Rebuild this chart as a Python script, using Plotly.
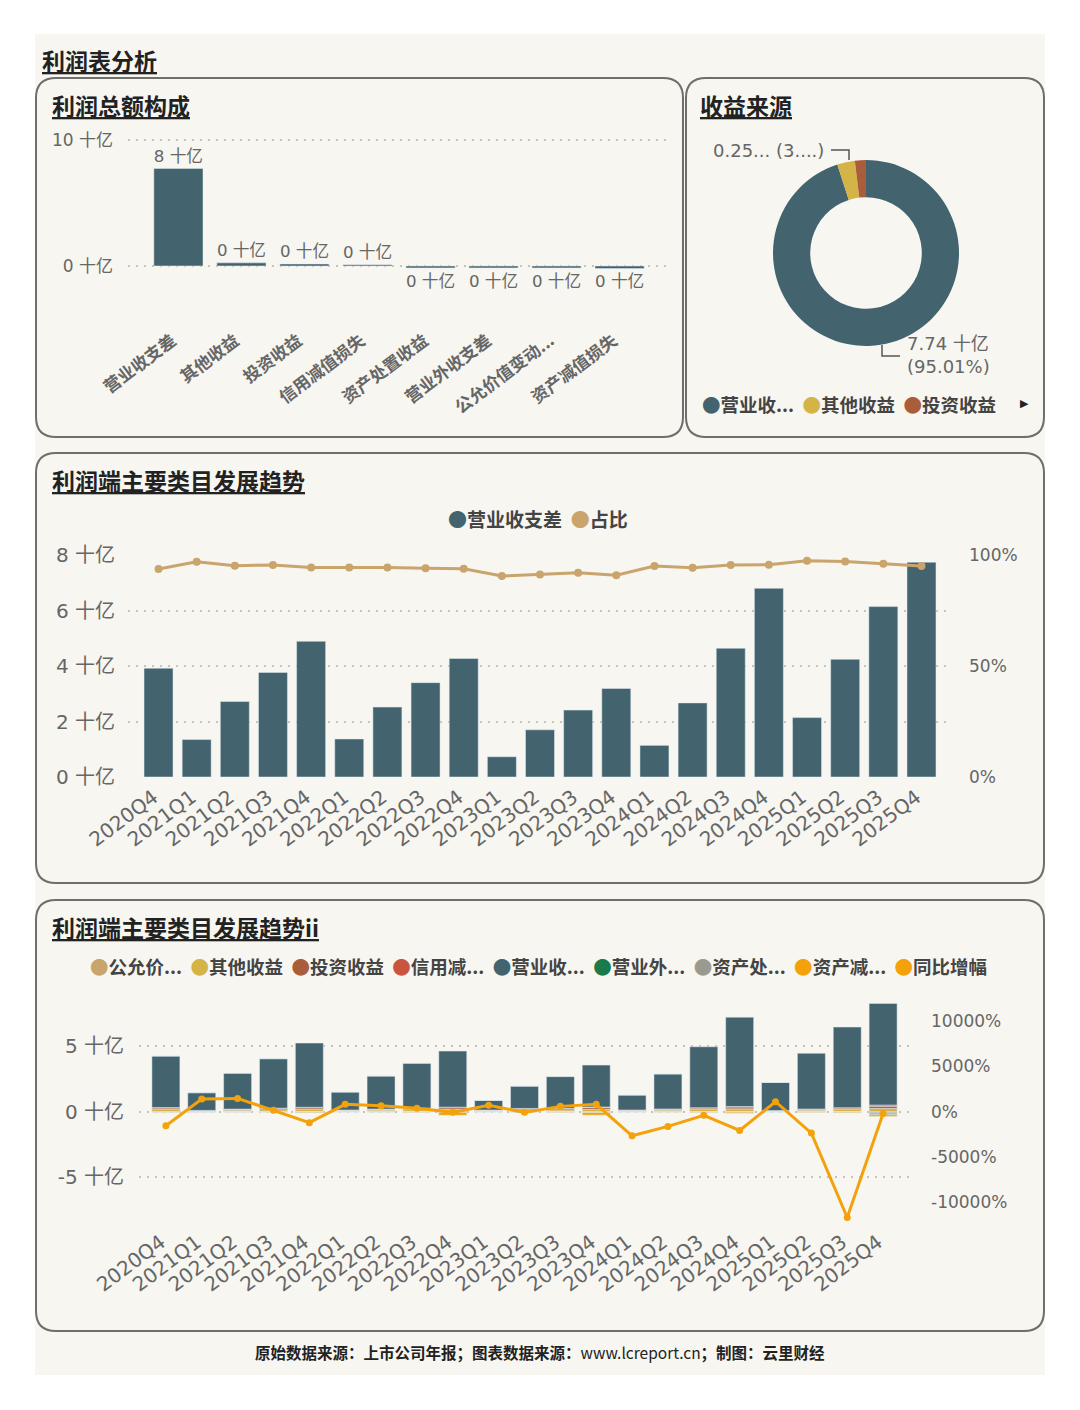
import plotly.graph_objects as go

W, H = 1080, 1410


def px(x):
    return x / W


def py(y):
    return 1 - y / H


def rounded_rect(x0, y0, x1, y1, r):
    """rounded rectangle path in paper coords, corners given in pixels"""
    pts = [
        f"M{px(x0 + r)},{py(y0)}", f"L{px(x1 - r)},{py(y0)}",
        f"Q{px(x1)},{py(y0)} {px(x1)},{py(y0 + r)}", f"L{px(x1)},{py(y1 - r)}",
        f"Q{px(x1)},{py(y1)} {px(x1 - r)},{py(y1)}", f"L{px(x0 + r)},{py(y1)}",
        f"Q{px(x0)},{py(y1)} {px(x0)},{py(y1 - r)}", f"L{px(x0)},{py(y0 + r)}",
        f"Q{px(x0)},{py(y0)} {px(x0 + r)},{py(y0)}", "Z",
    ]
    return " ".join(pts)


def fmt_num(v):
    return f"{v:g}"


NBSP = "\u00a0"

# colours
teal = "#43646e"
tan = "#c9a46c"
gold = "#d4b347"
brown = "#a95d3a"
red = "#c9553e"
green = "#1b7a4a"
grey = "#9b9a90"
orange = "#f3a20c"
cream = "#f7f6f1"
FONT = "DejaVu Sans, Noto Sans CJK SC, sans-serif"
CJK = "Noto Sans CJK SC, sans-serif"

# ---- 利润总额构成 ----
comp_names = ["营业收支差", "其他收益", "投资收益", "信用减值损失",
              "资产处置收益", "营业外收支差", "公允价值变动...", "资产减值损失"]
comp_values = [7.74, 0.25, 0.16, 0.10, -0.15, -0.15, -0.15, -0.20]

# ---- 收益来源 ----
pie_labels = ["营业收...", "其他收益", "投资收益"]
pie_values = [7.74, 0.25, 0.1565]
pie_colors = [teal, gold, brown]

# ---- 季度数据 ----
quarters = ["2020Q4", "2021Q1", "2021Q2", "2021Q3", "2021Q4", "2022Q1", "2022Q2",
            "2022Q3", "2022Q4", "2023Q1", "2023Q2", "2023Q3", "2023Q4", "2024Q1",
            "2024Q2", "2024Q3", "2024Q4", "2025Q1", "2025Q2", "2025Q3", "2025Q4"]
op_diff = [3.92, 1.35, 2.72, 3.77, 4.89, 1.37, 2.52, 3.40, 4.27, 0.73, 1.70,
           2.41, 3.19, 1.14, 2.67, 4.64, 6.80, 2.14, 4.24, 6.14, 7.74]
op_share = [93.7, 97.0, 95.2, 95.5, 94.4, 94.4, 94.4, 94.0, 93.8, 90.5, 91.2,
            92.0, 90.9, 95.0, 94.3, 95.5, 95.6, 97.4, 97.1, 96.1, 95.0]

fair_value = [0.01, -0.01, 0.01, 0.01, 0.02, 0.01, 0.01, 0.01, -0.02, 0.01, 0.01,
              0.01, -0.03, 0.00, 0.01, 0.01, 0.02, 0.00, 0.01, 0.01, -0.08]
other_income = [0.16, 0.05, 0.10, 0.14, 0.17, 0.07, 0.11, 0.15, 0.18, 0.07, 0.13,
                0.13, 0.19, 0.07, 0.11, 0.16, 0.20, 0.05, 0.11, 0.16, 0.25]
invest_income = [0.11, 0.04, 0.07, 0.09, 0.11, 0.04, 0.07, 0.09, 0.12, 0.04, 0.08,
                 0.09, 0.13, 0.05, 0.07, 0.11, 0.14, 0.03, 0.07, 0.11, 0.16]
credit_loss = [0.04, 0.01, 0.02, 0.03, 0.04, 0.01, 0.01, 0.03, 0.05, 0.01, 0.03,
               0.03, 0.04, 0.01, 0.02, 0.03, 0.04, 0.01, 0.02, 0.03, 0.10]
non_op = [-0.02, -0.01, -0.01, -0.01, -0.02, -0.01, -0.01, -0.01, -0.02, -0.01, -0.01,
          -0.01, -0.02, -0.01, -0.01, -0.01, -0.02, -0.01, -0.01, -0.01, -0.08]
asset_disposal = [0.00, 0.00, -0.01, 0.00, -0.01, 0.00, 0.00, -0.01, -0.01, 0.00, 0.00,
                  -0.01, -0.01, 0.00, 0.00, -0.01, -0.02, 0.00, -0.01, -0.01, -0.08]
asset_impair = [-0.02, -0.01, -0.01, -0.02, -0.05, -0.01, -0.02, -0.03, -0.22, -0.01, -0.02,
                -0.03, -0.20, -0.01, -0.02, -0.04, -0.08, -0.01, -0.03, -0.05, -0.12]
yoy = [-1540, 1400, 1470, 150, -1210, 810, 660, 370, -70, 700, -70,
       590, 810, -2650, -1620, -400, -2060, 1100, -2350, -11650, -200]

stack_series = [
    ("公允价...", fair_value, tan),
    ("其他收益", other_income, gold),
    ("投资收益", invest_income, brown),
    ("信用减...", credit_loss, red),
    ("营业收...", op_diff, teal),
    ("营业外...", non_op, green),
    ("资产处...", asset_disposal, grey),
    ("资产减...", asset_impair, orange),
]

comp_ticks = [0, 10]
trend_ticks = [0, 2, 4, 6, 8]
share_ticks = [0, 50, 100]
stack_ticks = [-5, 0, 5]
yoy_ticks = [-10000, -5000, 0, 5000, 10000]

fig = go.Figure()

# panel 1 bars
fig.add_trace(go.Bar(
    x=comp_names, y=comp_values, marker_color=teal, width=0.78,
    text=[f"{int(round(v))} 十亿" for v in comp_values], textposition="outside",
    textfont=dict(family=FONT, size=17, color="#666"), cliponaxis=False,
    xaxis="x", yaxis="y", showlegend=False))

# panel 2 donut
fig.add_trace(go.Pie(
    labels=pie_labels, values=pie_values, hole=0.6, sort=False,
    direction="clockwise", rotation=0, marker=dict(colors=pie_colors),
    textinfo="none", showlegend=False,
    domain=dict(x=[px(773), px(959)], y=[py(346), py(160)])))

# panel 3
fig.add_trace(go.Bar(x=quarters, y=op_diff, marker_color=teal, width=0.76,
                     xaxis="x2", yaxis="y2", showlegend=False))
fig.add_trace(go.Scatter(x=quarters, y=op_share, mode="lines+markers",
                         line=dict(color=tan, width=3), marker=dict(size=8, color=tan),
                         xaxis="x2", yaxis="y3", showlegend=False))

# panel 4
for name, vals, col in stack_series:
    fig.add_trace(go.Bar(x=quarters, y=vals, marker_color=col, width=0.78, name=name,
                         xaxis="x3", yaxis="y4", showlegend=False))
fig.add_trace(go.Scatter(x=quarters, y=yoy, mode="lines+markers", name="同比增幅",
                         line=dict(color=orange, width=3), marker=dict(size=7, color=orange),
                         xaxis="x3", yaxis="y5", showlegend=False, cliponaxis=False))

grid = dict(showgrid=True, gridcolor="#c4c4be", griddash="2px,6px", gridwidth=1.5,
            zeroline=False, showline=False, ticks="", automargin=False)
nogrid = dict(showgrid=False, zeroline=False, showline=False, ticks="", automargin=False)
tickf = dict(family=FONT, size=20, color="#666")
xtickf = dict(family=FONT, size=20, color="#666")
quarter_text = [q + NBSP for q in quarters]

# panel 1 axes
fig.update_layout(
    xaxis=dict(domain=[px(128), px(670)], range=[-0.8, 7.8], tickangle=-37,
               tickvals=comp_names, ticktext=[n + NBSP * 2 for n in comp_names],
               tickfont=dict(family=CJK, size=17, color="#666", weight="bold"),
               ticklabelstandoff=42, **nogrid),
    yaxis=dict(domain=[py(280), py(130)], range=[-1.11, 10.79], tickvals=comp_ticks,
               ticktext=[f"{fmt_num(v)} 十亿" for v in comp_ticks],
               tickfont=dict(family=FONT, size=17, color="#666"),
               ticklabelstandoff=14, **grid),
)

# panel 3 axes
fig.update_layout(
    xaxis2=dict(domain=[px(128), px(952)], range=[-0.8, 20.8], tickangle=-37,
                tickvals=quarters, ticktext=quarter_text,
                tickfont=xtickf, anchor="y2", **nogrid),
    yaxis2=dict(domain=[py(777), py(555)], range=[0, 8], tickvals=trend_ticks,
                ticktext=[f"{fmt_num(v)} 十亿" for v in trend_ticks],
                tickfont=tickf, ticklabelstandoff=12, anchor="x2", **grid),
    yaxis3=dict(domain=[py(777), py(555)], range=[0, 100], tickvals=share_ticks,
                ticktext=[f"{fmt_num(v)}%" for v in share_ticks],
                overlaying="y2", side="right",
                tickfont=dict(family=FONT, size=17, color="#666"),
                ticklabelstandoff=16, anchor="x2", **nogrid),
)

# panel 4 axes (zero aligned on both sides)
left_rng = [-8.40, 8.51]
ratio = 1446
fig.update_layout(
    xaxis3=dict(domain=[px(139), px(910)], range=[-0.75, 20.75], tickangle=-37,
                tickvals=quarters, ticktext=quarter_text,
                tickfont=xtickf, anchor="y4", **nogrid),
    yaxis4=dict(domain=[py(1222), py(1000)], range=left_rng, tickvals=stack_ticks,
                ticktext=[f"{fmt_num(v)} 十亿" for v in stack_ticks],
                tickfont=tickf, ticklabelstandoff=14, anchor="x3", **grid),
    yaxis5=dict(domain=[py(1222), py(1000)], range=[v * ratio for v in left_rng],
                tickvals=yoy_ticks, ticktext=[f"{fmt_num(v)}%" for v in yoy_ticks],
                overlaying="y4", side="right",
                tickfont=dict(family=FONT, size=17, color="#666"),
                ticklabelstandoff=20, anchor="x3", **nogrid),
)

# card + panel frames
shapes = [dict(type="rect", xref="paper", yref="paper", x0=px(35), x1=px(1045),
               y0=py(1375), y1=py(34), fillcolor=cream, line=dict(width=0), layer="below")]
for box in [(36, 78, 683, 437), (686, 78, 1044, 437), (36, 453, 1044, 883), (36, 900, 1044, 1331)]:
    shapes.append(dict(type="path", xref="paper", yref="paper", path=rounded_rect(*box, 20),
                       line=dict(color="#6e6e6a", width=2), layer="below"))
# donut leader lines
shapes.append(dict(type="path", xref="paper", yref="paper",
                   path=f"M{px(831)},{py(150)} L{px(849)},{py(150)} L{px(849)},{py(160)}",
                   line=dict(color="#555", width=1.5)))
shapes.append(dict(type="path", xref="paper", yref="paper",
                   path=f"M{px(882)},{py(345)} L{px(882)},{py(356)} L{px(900)},{py(356)}",
                   line=dict(color="#555", width=1.5)))

total = sum(pie_values)
pcts = [v / total * 100 for v in pie_values]

ann = []


def title(text, x, y, size=23):
    ann.append(dict(text=f"<b><u>{text}</u></b>", x=px(x), y=py(y), xref="paper", yref="paper",
                    xanchor="left", yanchor="middle", showarrow=False,
                    font=dict(family=CJK, size=size, color="#222")))


title("利润表分析", 40, 60)
title("利润总额构成", 50, 105)
title("收益来源", 698, 105)
title("利润端主要类目发展趋势", 50, 480)
title("利润端主要类目发展趋势ii", 50, 927)

# donut labels
ann.append(dict(text=f"{pie_values[1]:.2f}... ({pcts[1]:.0f}....)", x=px(826), y=py(150),
                xref="paper", yref="paper", xanchor="right", yanchor="middle", showarrow=False,
                font=dict(family=FONT, size=18, color="#666")))
ann.append(dict(text=f"{pie_values[0]:.2f} 十亿<br>({pcts[0]:.2f}%)", x=px(905), y=py(355),
                xref="paper", yref="paper", xanchor="left", yanchor="middle", showarrow=False,
                align="left", font=dict(family=FONT, size=18, color="#666")))


def legend_text(items, gap=" "):
    return gap.join(f"<span style='color:{c}'>●</span>{n}" for n, c in items)


ann.append(dict(text=legend_text(zip(pie_labels, pie_colors), "  "), x=px(700), y=py(404),
                xref="paper", yref="paper", xanchor="left", yanchor="middle", showarrow=False,
                font=dict(family=CJK, size=18.5, color="#444", weight="bold")))
ann.append(dict(text="▶", x=px(1024), y=py(404), xref="paper", yref="paper",
                xanchor="center", yanchor="middle", showarrow=False,
                font=dict(family=FONT, size=11, color="#222")))
ann.append(dict(text=legend_text([("营业收支差", teal), ("占比", tan)], "  "), x=px(538), y=py(519),
                xref="paper", yref="paper", xanchor="center", yanchor="middle", showarrow=False,
                font=dict(family=CJK, size=19, color="#444", weight="bold")))
ann.append(dict(text=legend_text([(n, c) for n, _, c in stack_series] + [("同比增幅", orange)], "  "),
                x=px(538), y=py(966), xref="paper", yref="paper", xanchor="center",
                yanchor="middle", showarrow=False,
                font=dict(family=CJK, size=18.5, color="#444", weight="bold")))

# footer
ann.append(dict(text="<b>原始数据来源：上市公司年报；图表数据来源：</b>www.lcreport.cn<b>；制图：云里财经</b>",
                x=px(540), y=py(1352), xref="paper", yref="paper", xanchor="center",
                yanchor="middle", showarrow=False,
                font=dict(family="Noto Sans CJK SC, DejaVu Sans", size=15.5, color="#222")))

fig.update_layout(
    width=W, height=H, margin=dict(l=0, r=0, t=0, b=0, autoexpand=False),
    paper_bgcolor="white", plot_bgcolor="rgba(0,0,0,0)",
    barmode="relative", showlegend=False,
    shapes=shapes, annotations=ann,
    font=dict(family=FONT),
)

fig.write_html("out.html", config={"displayModeBar": False},
               post_script="document.body.style.margin='0';document.body.style.overflow='hidden';")
